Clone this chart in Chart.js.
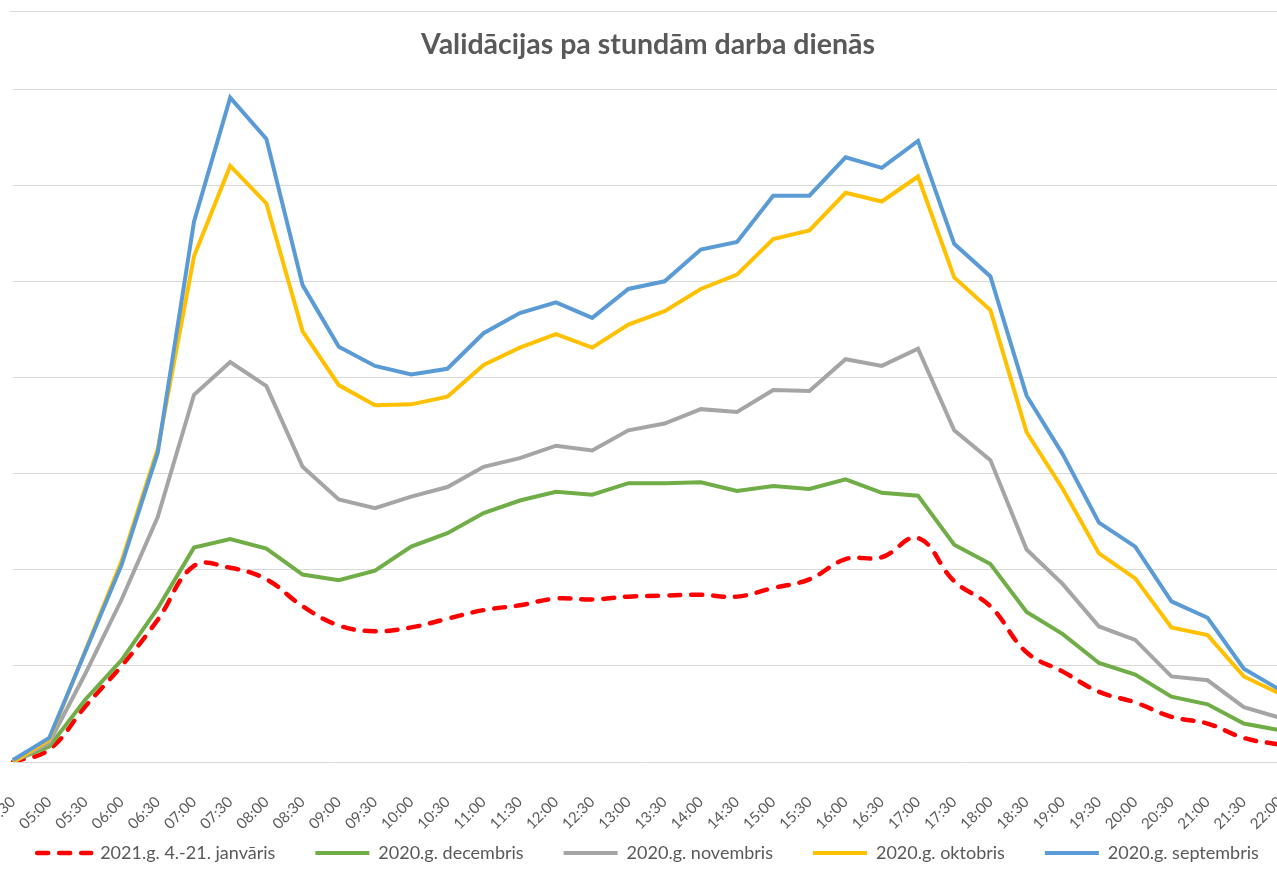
<!DOCTYPE html>
<html>
<head>
<meta charset="utf-8">
<script src="https://cdn.jsdelivr.net/npm/chart.js@4"></script>
<style>
  html, body { margin: 0; padding: 0; background: #fff; overflow: hidden; }
  #wrap { position: absolute; left: -48px; top: 0; width: 1375px; height: 880px; }
</style>
</head>
<body>
<div id="wrap"><canvas id="myChart"></canvas></div>
<script>
// half-hour slots on the x axis
const hours = ['04:30','05:00','05:30','06:00','06:30','07:00','07:30','08:00','08:30','09:00',
  '09:30','10:00','10:30','11:00','11:30','12:00','12:30','13:00','13:30','14:00',
  '14:30','15:00','15:30','16:00','16:30','17:00','17:30','18:00','18:30','19:00',
  '19:30','20:00','20:30','21:00','21:30','22:00'];

// validations (one gridline = 10)
const jan2021 = [0, 1.3, 5.8, 10.0, 14.8, 20.4, 20.2, 19.0, 16.2, 14.2, 13.6, 14.0, 14.9, 15.8, 16.3, 17.0, 16.9, 17.2,
  17.3, 17.4, 17.2, 18.1, 19.0, 21.1, 21.3, 23.3, 18.8, 16.2, 11.4, 9.4, 7.3, 6.2, 4.7, 4.0, 2.5, 1.8];
const dec2020 = [0.1, 1.6, 6.5, 10.6, 16.0, 22.3, 23.2, 22.2, 19.5, 18.9, 19.9, 22.4, 23.8, 25.9, 27.2, 28.1, 27.8, 29.0,
  29.0, 29.1, 28.2, 28.7, 28.4, 29.4, 28.0, 27.7, 22.6, 20.6, 15.6, 13.3, 10.3, 9.1, 6.8, 6.0, 4.0, 3.3];
const nov2020 = [0, 2.0, 9.2, 16.9, 25.5, 38.2, 41.6, 39.1, 30.7, 27.3, 26.4, 27.6, 28.6, 30.7, 31.6, 32.9, 32.4, 34.5,
  35.2, 36.7, 36.4, 38.7, 38.6, 41.9, 41.2, 43.0, 34.5, 31.4, 22.1, 18.5, 14.1, 12.7, 8.9, 8.5, 5.7, 4.6];
const oct2020 = [0, 2.3, 11.6, 20.9, 32.6, 52.6, 62.0, 58.1, 44.8, 39.2, 37.1, 37.2, 38.0, 41.3, 43.1, 44.5, 43.1, 45.5,
  46.9, 49.2, 50.7, 54.4, 55.3, 59.2, 58.3, 60.9, 50.4, 47.0, 34.3, 28.4, 21.7, 19.1, 14.0, 13.2, 8.9, 7.1];
const sep2020 = [0.2, 2.5, 11.5, 20.5, 32.2, 56.2, 69.1, 64.8, 49.6, 43.2, 41.2, 40.3, 40.9, 44.6, 46.7, 47.8, 46.2, 49.2,
  50.0, 53.3, 54.1, 58.9, 58.9, 62.9, 61.8, 64.6, 53.9, 50.5, 38.1, 32.0, 24.9, 22.4, 16.7, 15.0, 9.7, 7.5];

const seriesNames = ['2021.g. 4.-21. janvāris', '2020.g. decembris', '2020.g. novembris', '2020.g. oktobris', '2020.g. septembris'];
const seriesColors = ['#ff0000', '#70ad47', '#a5a5a5', '#ffc000', '#5b9bd5'];

const textGrey = '#595959';
const gridGrey = '#d9d9d9';

// light border line above the title, like the excel chart frame
const topLine = {
  id: 'topLine',
  beforeDraw(chart) {
    const ctx = chart.ctx;
    ctx.save();
    ctx.strokeStyle = gridGrey;
    ctx.lineWidth = 1;
    ctx.beginPath();
    ctx.moveTo(chart.chartArea.left - 3, 11.5);
    ctx.lineTo(chart.width, 11.5);
    ctx.stroke();
    ctx.restore();
  }
};

// the rotated hour labels reach into the legend band, so start the legend a bit higher
// (only the top moves, the box keeps its bottom so nothing gets clipped)
const liftLegend = {
  id: 'liftLegend',
  afterLayout(chart) {
    chart.legend.top -= 30;
  }
};

function makeSet(i, values) {
  return {
    label: seriesNames[i],
    data: values,
    borderColor: seriesColors[i],
    backgroundColor: seriesColors[i],
    borderWidth: 4,
    pointRadius: 0,
    fill: false,
    tension: 0,
    order: 5 - i // septembris on top
  };
}

const datasets = [jan2021, dec2020, nov2020, oct2020, sep2020].map((v, i) => makeSet(i, v));
datasets[0].borderDash = [11, 11];
datasets[0].borderCapStyle = 'round';
datasets[0].borderWidth = 4.5;
datasets[0].tension = 0.4;

// legend samples use the point style, so copy the line's dash over by hand
function legendItems(chart) {
  const items = Chart.defaults.plugins.legend.labels.generateLabels(chart);
  items.forEach(item => {
    const ds = chart.data.datasets[item.datasetIndex];
    item.lineDash = ds.borderDash || [];
    item.lineCap = ds.borderCapStyle || 'butt';
    item.lineWidth = ds.borderWidth;
    item.strokeStyle = ds.borderColor;
  });
  return items;
}

new Chart(document.getElementById('myChart'), {
  type: 'line',
  data: { labels: hours, datasets: datasets },
  plugins: [topLine, liftLegend],
  options: {
    responsive: true,
    maintainAspectRatio: false,
    animation: false,
    layout: { padding: { left: 41, right: 24, top: 0, bottom: 0 } },
    plugins: {
      title: {
        display: true,
        text: 'Validācijas pa stundām darba dienās',
        color: textGrey,
        font: { family: 'Lato', size: 28.5, weight: 'bold' },
        padding: { top: 28, bottom: 26.8 }
      },
      legend: {
        position: 'bottom',
        maxHeight: 46,
        labels: {
          color: textGrey,
          font: { family: 'Lato', size: 18 },
          usePointStyle: true,
          pointStyle: 'line',
          pointStyleWidth: 54,
          boxHeight: 18,
          padding: 40,
          generateLabels: legendItems,
          sort: (a, b) => a.datasetIndex - b.datasetIndex
        }
      },
      tooltip: { enabled: false }
    },
    scales: {
      x: {
        grid: { display: false, drawTicks: false },
        border: { display: false },
        ticks: {
          color: textGrey,
          font: { family: 'Lato', size: 15 },
          autoSkip: false,
          maxRotation: 45,
          minRotation: 45,
          padding: 31
        },
        afterFit(scale) { scale.height = 72; }
      },
      y: {
        min: 0,
        max: 70,
        grid: { color: gridGrey, lineWidth: 1, drawTicks: false },
        border: { display: false },
        ticks: { display: false, stepSize: 10 },
        afterFit(scale) { scale.width = 20; }
      },
      // empty spacer on the right so the legend gets one row
      yRight: {
        type: 'linear',
        position: 'right',
        grid: { display: false, drawTicks: false },
        border: { display: false },
        ticks: { display: false },
        afterFit(scale) { scale.width = 23; }
      }
    }
  }
});
</script>
</body>
</html>
